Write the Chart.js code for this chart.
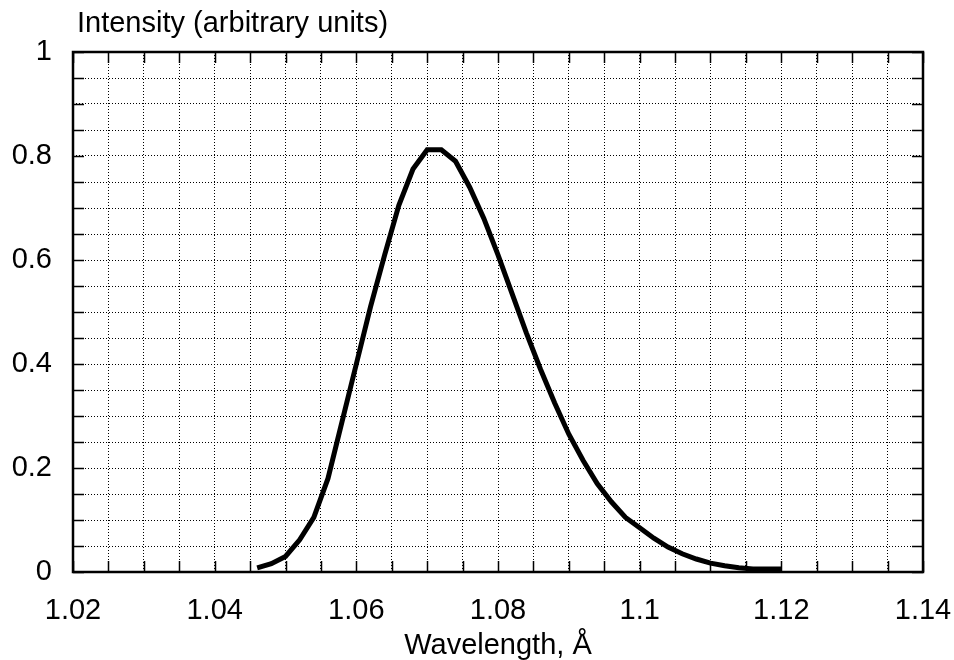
<!DOCTYPE html>
<html>
<head>
<meta charset="utf-8">
<script src="https://cdn.jsdelivr.net/npm/chart.js@4"></script>
<style>
  html, body { margin: 0; padding: 0; background: #fff; }
  #wrap { width: 954px; height: 660px; }
</style>
</head>
<body>
<div id="wrap"><canvas id="spectrum"></canvas></div>
<script>
// wavelength (Å) and intensity
const wavelengths = [1.046, 1.048, 1.050, 1.052, 1.054, 1.056, 1.058, 1.060, 1.062, 1.064,
  1.066, 1.068, 1.070, 1.072, 1.074, 1.076, 1.078, 1.080, 1.082, 1.084,
  1.086, 1.088, 1.090, 1.092, 1.094, 1.096, 1.098, 1.100, 1.102, 1.104,
  1.106, 1.108, 1.110, 1.112, 1.114, 1.116, 1.118, 1.120];
const intensity = [0.008, 0.016, 0.030, 0.062, 0.105, 0.180, 0.290, 0.400, 0.510, 0.610,
  0.705, 0.775, 0.812, 0.812, 0.790, 0.740, 0.680, 0.610, 0.535, 0.460,
  0.390, 0.325, 0.265, 0.215, 0.170, 0.135, 0.105, 0.085, 0.065, 0.048,
  0.035, 0.025, 0.017, 0.012, 0.008, 0.006, 0.006, 0.006];

const xLabels = [1.02, 1.04, 1.06, 1.08, 1.1, 1.12, 1.14];
const yLabels = [0, 0.2, 0.4, 0.6, 0.8, 1];

const FONT = "'Liberation Sans', Arial, sans-serif";
const FONT_SIZE = 29;

const points = wavelengths.map((w, i) => ({ x: w, y: intensity[i] }));

const isLabel = (list, v) => list.some(l => Math.abs(l - v) < 1e-6);

// solid frame, inward ticks and both axis titles
const framePlugin = {
  id: "frame",
  afterDraw(chart) {
    const { ctx, chartArea: a, scales } = chart;
    ctx.save();
    ctx.strokeStyle = "#000";
    ctx.lineWidth = 1.5;
    const tick = 11;
    ctx.beginPath();
    scales.x.ticks.forEach(t => {
      const px = Math.round(scales.x.getPixelForValue(t.value)) + 0.5;
      ctx.moveTo(px, a.bottom); ctx.lineTo(px, a.bottom - tick);
      ctx.moveTo(px, a.top); ctx.lineTo(px, a.top + tick);
    });
    scales.y.ticks.forEach(t => {
      const py = Math.round(scales.y.getPixelForValue(t.value)) + 0.5;
      ctx.moveTo(a.left, py); ctx.lineTo(a.left + tick, py);
      ctx.moveTo(a.right, py); ctx.lineTo(a.right - tick, py);
    });
    ctx.stroke();
    ctx.lineWidth = 2.5;
    ctx.strokeRect(a.left, a.top, a.right - a.left, a.bottom - a.top);

    ctx.fillStyle = "#000";
    ctx.font = FONT_SIZE + "px " + FONT;
    ctx.textBaseline = "middle";
    ctx.textAlign = "left";
    ctx.fillText("Intensity (arbitrary units)", a.left + 4, a.top - 28);
    ctx.textAlign = "center";
    ctx.fillText("Wavelength, Å", (a.left + a.right) / 2, a.bottom + 74);
    ctx.restore();
  }
};

const ctx = document.getElementById("spectrum").getContext("2d");
new Chart(ctx, {
  type: "line",
  data: {
    datasets: [{
      data: points,
      borderColor: "#000",
      borderWidth: 5,
      pointRadius: 0,
      tension: 0,
      fill: false,
      borderJoinStyle: "miter"
    }]
  },
  options: {
    responsive: true,
    maintainAspectRatio: false,
    animation: false,
    layout: { padding: { top: 52, right: 31, left: 0, bottom: 0 } },
    plugins: {
      legend: { display: false },
      tooltip: { enabled: false }
    },
    scales: {
      x: {
        type: "linear",
        min: 1.02,
        max: 1.14,
        afterFit: s => { s.height = 88; s.paddingLeft = 0; s.paddingRight = 0; },
        grid: { color: "#000", lineWidth: 1, drawTicks: false },
        border: { display: false, dash: [1, 2] },
        ticks: {
          stepSize: 0.005,
          autoSkip: false,
          maxRotation: 0,
          padding: 22,
          color: "#000",
          font: { family: FONT, size: FONT_SIZE },
          callback: v => isLabel(xLabels, v) ? String(Number(v.toFixed(2))) : ""
        }
      },
      y: {
        min: 0,
        max: 1,
        afterFit: s => { s.width = 73; s.paddingTop = 0; s.paddingBottom = 0; },
        grid: { color: "#000", lineWidth: 1, drawTicks: false },
        border: { display: false, dash: [1, 2] },
        ticks: {
          stepSize: 0.05,
          autoSkip: false,
          padding: 21,
          color: "#000",
          font: { family: FONT, size: FONT_SIZE },
          callback: v => isLabel(yLabels, v) ? String(Number(v.toFixed(1))) : ""
        }
      }
    }
  },
  plugins: [framePlugin]
});
</script>
</body>
</html>
